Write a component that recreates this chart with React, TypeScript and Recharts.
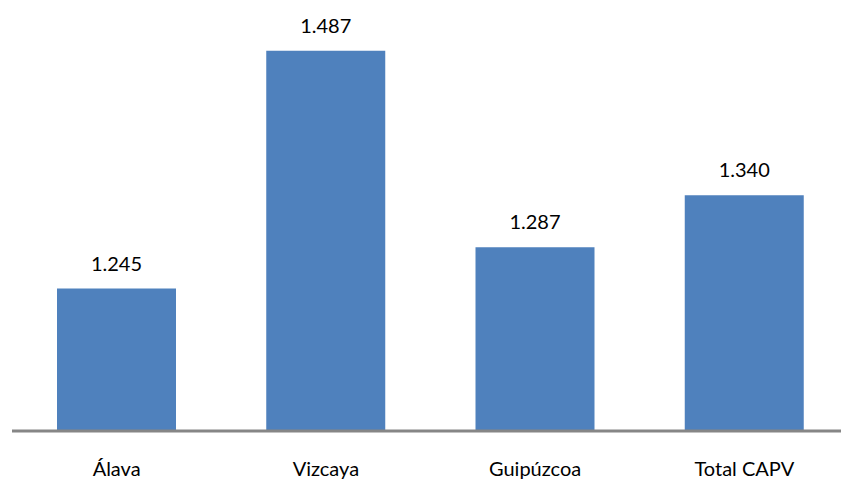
import React from "react";
import { BarChart, Bar, XAxis, YAxis, LabelList } from "recharts";

const categories = ["Álava", "Vizcaya", "Guipúzcoa", "Total CAPV"];
const values = [1245, 1487, 1287, 1340];

const data = categories.map((name, i) => ({ name, value: values[i] }));

const fmt = (v: number) => {
  const s = String(Math.round(v));
  return s.replace(/\B(?=(\d{3})+(?!\d))/g, ".");
};

const FONT = "Lato, 'Open Sans', sans-serif";

const Tick = (props: any) => {
  const { x, y, payload } = props;
  return (
    <text x={x} y={y} dy={37} textAnchor="middle" fill="#000" fontSize={20} fontFamily={FONT}>
      {payload.value}
    </text>
  );
};

export default function App() {
  return (
    <div style={{ position: "absolute", left: 0, top: 0, width: 841, height: 480, overflow: "hidden", background: "#fff" }}>
      <BarChart
        width={860}
        height={480}
        data={data}
        margin={{ top: 38, right: 11, left: 12, bottom: 0 }}
      >
        <YAxis hide domain={[1100, 1500]} allowDataOverflow />
        <XAxis
          dataKey="name"
          height={49}
          axisLine={{ stroke: "#868686", strokeWidth: 3 }}
          tickLine={false}
          tick={<Tick />}
          interval={0}
        />
        <Bar dataKey="value" fill="#4F81BD" barSize={119} isAnimationActive={false}>
          <LabelList
            dataKey="value"
            position="top"
            offset={18}
            formatter={(v: any) => fmt(Number(v))}
            fill="#000"
            fontSize={20}
            fontFamily={FONT}
          />
        </Bar>
      </BarChart>
    </div>
  );
}
